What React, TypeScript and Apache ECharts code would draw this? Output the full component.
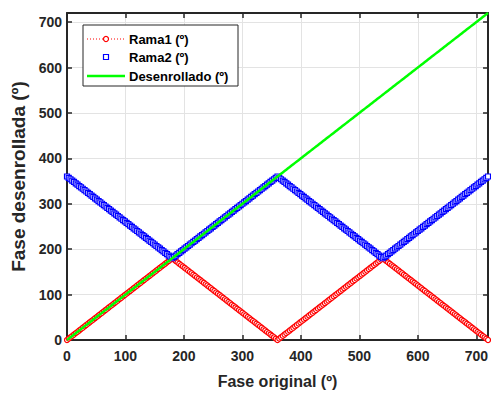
import React, { useEffect, useRef } from "react";
import * as echarts from "echarts";

const phase = [
  0, 3, 6, 9, 12, 15, 18, 21, 24, 27, 30, 33, 36, 39, 42, 45, 48, 51, 54, 57,
  60, 63, 66, 69, 72, 75, 78, 81, 84, 87, 90, 93, 96, 99, 102, 105, 108, 111, 114, 117,
  120, 123, 126, 129, 132, 135, 138, 141, 144, 147, 150, 153, 156, 159, 162, 165, 168, 171, 174, 177,
  180, 183, 186, 189, 192, 195, 198, 201, 204, 207, 210, 213, 216, 219, 222, 225, 228, 231, 234, 237,
  240, 243, 246, 249, 252, 255, 258, 261, 264, 267, 270, 273, 276, 279, 282, 285, 288, 291, 294, 297,
  300, 303, 306, 309, 312, 315, 318, 321, 324, 327, 330, 333, 336, 339, 342, 345, 348, 351, 354, 357,
  360, 363, 366, 369, 372, 375, 378, 381, 384, 387, 390, 393, 396, 399, 402, 405, 408, 411, 414, 417,
  420, 423, 426, 429, 432, 435, 438, 441, 444, 447, 450, 453, 456, 459, 462, 465, 468, 471, 474, 477,
  480, 483, 486, 489, 492, 495, 498, 501, 504, 507, 510, 513, 516, 519, 522, 525, 528, 531, 534, 537,
  540, 543, 546, 549, 552, 555, 558, 561, 564, 567, 570, 573, 576, 579, 582, 585, 588, 591, 594, 597,
  600, 603, 606, 609, 612, 615, 618, 621, 624, 627, 630, 633, 636, 639, 642, 645, 648, 651, 654, 657,
  660, 663, 666, 669, 672, 675, 678, 681, 684, 687, 690, 693, 696, 699, 702, 705, 708, 711, 714, 717,
  720,
];

const rama1 = [
  0, 3, 6, 9, 12, 15, 18, 21, 24, 27, 30, 33, 36, 39, 42, 45, 48, 51, 54, 57,
  60, 63, 66, 69, 72, 75, 78, 81, 84, 87, 90, 93, 96, 99, 102, 105, 108, 111, 114, 117,
  120, 123, 126, 129, 132, 135, 138, 141, 144, 147, 150, 153, 156, 159, 162, 165, 168, 171, 174, 177,
  180, 177, 174, 171, 168, 165, 162, 159, 156, 153, 150, 147, 144, 141, 138, 135, 132, 129, 126, 123,
  120, 117, 114, 111, 108, 105, 102, 99, 96, 93, 90, 87, 84, 81, 78, 75, 72, 69, 66, 63,
  60, 57, 54, 51, 48, 45, 42, 39, 36, 33, 30, 27, 24, 21, 18, 15, 12, 9, 6, 3,
  0, 3, 6, 9, 12, 15, 18, 21, 24, 27, 30, 33, 36, 39, 42, 45, 48, 51, 54, 57,
  60, 63, 66, 69, 72, 75, 78, 81, 84, 87, 90, 93, 96, 99, 102, 105, 108, 111, 114, 117,
  120, 123, 126, 129, 132, 135, 138, 141, 144, 147, 150, 153, 156, 159, 162, 165, 168, 171, 174, 177,
  180, 177, 174, 171, 168, 165, 162, 159, 156, 153, 150, 147, 144, 141, 138, 135, 132, 129, 126, 123,
  120, 117, 114, 111, 108, 105, 102, 99, 96, 93, 90, 87, 84, 81, 78, 75, 72, 69, 66, 63,
  60, 57, 54, 51, 48, 45, 42, 39, 36, 33, 30, 27, 24, 21, 18, 15, 12, 9, 6, 3,
  0,
];

const rama2 = [
  360, 357, 354, 351, 348, 345, 342, 339, 336, 333, 330, 327, 324, 321, 318, 315, 312, 309, 306, 303,
  300, 297, 294, 291, 288, 285, 282, 279, 276, 273, 270, 267, 264, 261, 258, 255, 252, 249, 246, 243,
  240, 237, 234, 231, 228, 225, 222, 219, 216, 213, 210, 207, 204, 201, 198, 195, 192, 189, 186, 183,
  180, 183, 186, 189, 192, 195, 198, 201, 204, 207, 210, 213, 216, 219, 222, 225, 228, 231, 234, 237,
  240, 243, 246, 249, 252, 255, 258, 261, 264, 267, 270, 273, 276, 279, 282, 285, 288, 291, 294, 297,
  300, 303, 306, 309, 312, 315, 318, 321, 324, 327, 330, 333, 336, 339, 342, 345, 348, 351, 354, 357,
  360, 357, 354, 351, 348, 345, 342, 339, 336, 333, 330, 327, 324, 321, 318, 315, 312, 309, 306, 303,
  300, 297, 294, 291, 288, 285, 282, 279, 276, 273, 270, 267, 264, 261, 258, 255, 252, 249, 246, 243,
  240, 237, 234, 231, 228, 225, 222, 219, 216, 213, 210, 207, 204, 201, 198, 195, 192, 189, 186, 183,
  180, 183, 186, 189, 192, 195, 198, 201, 204, 207, 210, 213, 216, 219, 222, 225, 228, 231, 234, 237,
  240, 243, 246, 249, 252, 255, 258, 261, 264, 267, 270, 273, 276, 279, 282, 285, 288, 291, 294, 297,
  300, 303, 306, 309, 312, 315, 318, 321, 324, 327, 330, 333, 336, 339, 342, 345, 348, 351, 354, 357,
  360,
];

const desenrollado = [
  0, 3, 6, 9, 12, 15, 18, 21, 24, 27, 30, 33, 36, 39, 42, 45, 48, 51, 54, 57,
  60, 63, 66, 69, 72, 75, 78, 81, 84, 87, 90, 93, 96, 99, 102, 105, 108, 111, 114, 117,
  120, 123, 126, 129, 132, 135, 138, 141, 144, 147, 150, 153, 156, 159, 162, 165, 168, 171, 174, 177,
  180, 183, 186, 189, 192, 195, 198, 201, 204, 207, 210, 213, 216, 219, 222, 225, 228, 231, 234, 237,
  240, 243, 246, 249, 252, 255, 258, 261, 264, 267, 270, 273, 276, 279, 282, 285, 288, 291, 294, 297,
  300, 303, 306, 309, 312, 315, 318, 321, 324, 327, 330, 333, 336, 339, 342, 345, 348, 351, 354, 357,
  360, 363, 366, 369, 372, 375, 378, 381, 384, 387, 390, 393, 396, 399, 402, 405, 408, 411, 414, 417,
  420, 423, 426, 429, 432, 435, 438, 441, 444, 447, 450, 453, 456, 459, 462, 465, 468, 471, 474, 477,
  480, 483, 486, 489, 492, 495, 498, 501, 504, 507, 510, 513, 516, 519, 522, 525, 528, 531, 534, 537,
  540, 543, 546, 549, 552, 555, 558, 561, 564, 567, 570, 573, 576, 579, 582, 585, 588, 591, 594, 597,
  600, 603, 606, 609, 612, 615, 618, 621, 624, 627, 630, 633, 636, 639, 642, 645, 648, 651, 654, 657,
  660, 663, 666, 669, 672, 675, 678, 681, 684, 687, 690, 693, 696, 699, 702, 705, 708, 711, 714, 717,
  720,
];

const seriesNames = ["Rama1 (º)", "Rama2 (º)", "Desenrollado (º)"];
const xTitle = "Fase original (º)";
const yTitle = "Fase desenrollada (º)";

const FONT = '"Liberation Sans", Arial, Helvetica, sans-serif';
const AX = "#262626";

export default function App() {
  const ref = useRef<HTMLDivElement>(null);
  useEffect(() => {
    if (!ref.current) return;
    const chart = echarts.init(ref.current, undefined, { renderer: "svg" });
    const axisCommon = {
      type: "value" as const,
      min: 0,
      max: 720,
      interval: 100,
    };
    const legendX = 83;
    const legendY = 25;
    const rows = [39, 57, 76];
    const iconX1 = 87;
    const iconX2 = 125;
    const iconC = (iconX1 + iconX2) / 2;
    const textX = 129;
    const legendTextStyle = {
      fill: "#000",
      fontSize: 13,
      fontWeight: "bold",
      fontFamily: FONT,
      verticalAlign: "middle",
      textVerticalAlign: "middle",
    };
    chart.setOption({
      animation: false,
      backgroundColor: "#fff",
      grid: { left: 67, right: 2, top: 13, bottom: 54, containLabel: false },
      xAxis: [
        {
          ...axisCommon,
          position: "bottom",
          name: xTitle,
          nameLocation: "middle",
          nameGap: 33,
          nameTextStyle: { color: AX, fontSize: 16, fontWeight: "bold", fontFamily: FONT },
          axisLine: { show: true, onZero: false, lineStyle: { color: AX, width: 2 } },
          axisTick: { show: true, inside: true, length: 5, lineStyle: { color: AX, width: 1.5 } },
          axisLabel: { color: AX, fontSize: 14, fontWeight: "bold", fontFamily: FONT, margin: 9, showMaxLabel: false },
          splitLine: { show: true, lineStyle: { color: "#e3e3e3", width: 1 } },
        },
        {
          ...axisCommon,
          position: "top",
          axisLine: { show: true, onZero: false, lineStyle: { color: AX, width: 2 } },
          axisTick: { show: true, inside: true, length: 5, lineStyle: { color: AX, width: 1.5 } },
          axisLabel: { show: false },
          splitLine: { show: false },
        },
      ],
      yAxis: [
        {
          ...axisCommon,
          position: "left",
          name: yTitle,
          nameLocation: "middle",
          nameRotate: 90,
          nameGap: 37,
          nameTextStyle: { color: AX, fontSize: 19, fontWeight: "bold", fontFamily: FONT },
          axisLine: { show: true, onZero: false, lineStyle: { color: AX, width: 2 } },
          axisTick: { show: true, inside: true, length: 5, lineStyle: { color: AX, width: 1.5 } },
          axisLabel: { color: AX, fontSize: 14, fontWeight: "bold", fontFamily: FONT, margin: 5, showMaxLabel: false },
          splitLine: { show: true, lineStyle: { color: "#e3e3e3", width: 1 } },
        },
        {
          ...axisCommon,
          position: "right",
          axisLine: { show: true, onZero: false, lineStyle: { color: AX, width: 2 } },
          axisTick: { show: true, inside: true, length: 5, lineStyle: { color: AX, width: 1.5 } },
          axisLabel: { show: false },
          splitLine: { show: false },
        },
      ],
      series: [
        {
          name: seriesNames[0],
          type: "line",
          xAxisIndex: 0,
          yAxisIndex: 0,
          data: phase.map((x, i) => [x, rama1[i]]),
          symbol: "circle",
          symbolSize: 5,
          showAllSymbol: true,
          itemStyle: { color: "#fff", borderColor: "#ff0000", borderWidth: 1.2 },
          lineStyle: { color: "#ff0000", width: 1, type: [1, 2] },
          z: 2,
        },
        {
          name: seriesNames[1],
          type: "line",
          xAxisIndex: 0,
          yAxisIndex: 0,
          data: phase.map((x, i) => [x, rama2[i]]),
          symbol: "rect",
          symbolSize: 5,
          showAllSymbol: true,
          itemStyle: { color: "#fff", borderColor: "#0000ff", borderWidth: 1.2 },
          lineStyle: { width: 0, opacity: 0 },
          z: 3,
        },
        {
          name: seriesNames[2],
          type: "line",
          xAxisIndex: 0,
          yAxisIndex: 0,
          data: phase.map((x, i) => [x, desenrollado[i]]),
          symbol: "none",
          lineStyle: { color: "#00ff00", width: 2.5 },
          z: 4,
        },
      ],
      graphic: [
        {
          type: "rect",
          z: 100,
          shape: { x: legendX, y: legendY, width: 155, height: 61 },
          style: { fill: "#fff", stroke: AX, lineWidth: 1 },
        },
        {
          type: "line",
          z: 101,
          shape: { x1: iconX1, y1: rows[0], x2: iconX2, y2: rows[0] },
          style: { stroke: "#ff0000", lineWidth: 1, lineDash: [1, 2] },
        },
        {
          type: "circle",
          z: 102,
          shape: { cx: iconC, cy: rows[0], r: 2.5 },
          style: { fill: "#fff", stroke: "#ff0000", lineWidth: 1.2 },
        },
        {
          type: "rect",
          z: 102,
          shape: { x: iconC - 2.5, y: rows[1] - 2.5, width: 5, height: 5 },
          style: { fill: "#fff", stroke: "#0000ff", lineWidth: 1.2 },
        },
        {
          type: "line",
          z: 101,
          shape: { x1: iconX1, y1: rows[2], x2: iconX2, y2: rows[2] },
          style: { stroke: "#00ff00", lineWidth: 2.5 },
        },
        ...seriesNames.map((n, i) => ({
          type: "text",
          z: 103,
          x: textX,
          y: rows[i],
          style: { text: n, ...legendTextStyle },
        })),
      ],
    });
    return () => chart.dispose();
  }, []);
  return (
    <div
      ref={ref}
      style={{ position: "fixed", left: 0, top: 0, width: 491, height: 394, background: "#fff" }}
    />
  );
}
